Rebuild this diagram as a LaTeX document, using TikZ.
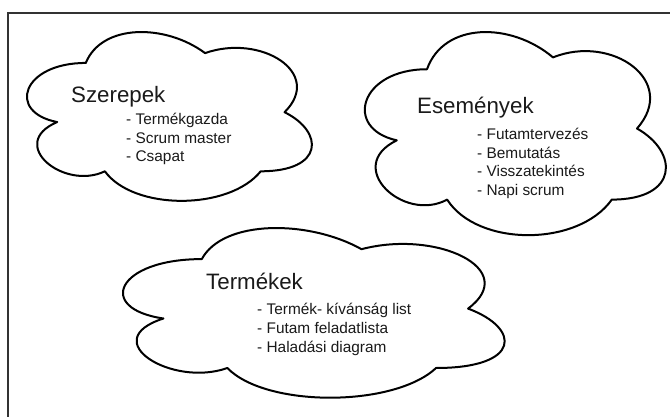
\documentclass[tikz,border=0pt]{standalone}
\usepackage{fontspec}
\setmainfont{Liberation Sans}
\definecolor{inkgray}{HTML}{1A1A1A}
\definecolor{framegray}{HTML}{333333}

% Cloud outline in a unit box (y pointing down), six lobes
\newcommand\cloudoutline{%
  \draw[cloudline] (0.25,0.25)
    .. controls (0.05,0.25) and (0,0.5) .. (0.16,0.55)
    .. controls (0,0.66) and (0.18,0.9) .. (0.31,0.8)
    .. controls (0.4,1) and (0.7,1) .. (0.8,0.8)
    .. controls (1,0.8) and (1,0.6) .. (0.875,0.5)
    .. controls (1,0.3) and (0.8,0.1) .. (0.625,0.2)
    .. controls (0.5,0.05) and (0.3,0.05) .. (0.25,0.25) -- cycle;}

\begin{document}
\begin{tikzpicture}[x=1pt, y=-1pt,
  cloudline/.style={draw=black, line width=2pt, fill=white, line join=round},
  heading/.style={anchor=base west, inner sep=0pt, text=inkgray, font=\fontsize{22.3}{26}\selectfont},
  entry/.style={anchor=base west, inner sep=0pt, text=inkgray, font=\fontsize{15.4}{18}\selectfont}]
  \useasboundingbox (0,0) rectangle (670,417);
  \clip (0,0) rectangle (670,417);

  % outer frame, cut by the page edges
  \draw[framegray, line width=2pt] (8.3,13.3) rectangle (700,450);

  % clouds
  \begin{scope}[shift={(6.3,13.7)}, x=318pt, y=-197pt]
    \cloudoutline
  \end{scope}
  \begin{scope}[shift={(343,10)}, x=336pt, y=-237pt]
    \cloudoutline
  \end{scope}
  \begin{scope}[shift={(95.3,209.6)}, x=426pt, y=-198pt]
    \cloudoutline
  \end{scope}

  % roles
  \node[heading] (roles) at (71,103) {Szerepek};
  \node[entry] (roleA) at (126,125) {- Termékgazda};
  \node[entry] (roleB) at (126,143.3) {- Scrum master};
  \node[entry] (roleC) at (126,161.6) {- Csapat};

  % events
  \node[heading] (events) at (417,114) {Események};
  \node[entry] (eventA) at (477,140) {- Futamtervezés};
  \node[entry] (eventB) at (477,158.5) {- Bemutatás};
  \node[entry] (eventC) at (477,177) {- Visszatekintés};
  \node[entry] (eventD) at (477,195.5) {- Napi scrum};

  % artifacts
  \node[heading] (artifacts) at (206,289) {Termékek};
  \node[entry] (artA) at (257,314.5) {- Termék- kívánság list};
  \node[entry] (artB) at (257,333.3) {- Futam feladatlista};
  \node[entry] (artC) at (257,352) {- Haladási diagram};
\end{tikzpicture}
\end{document}
